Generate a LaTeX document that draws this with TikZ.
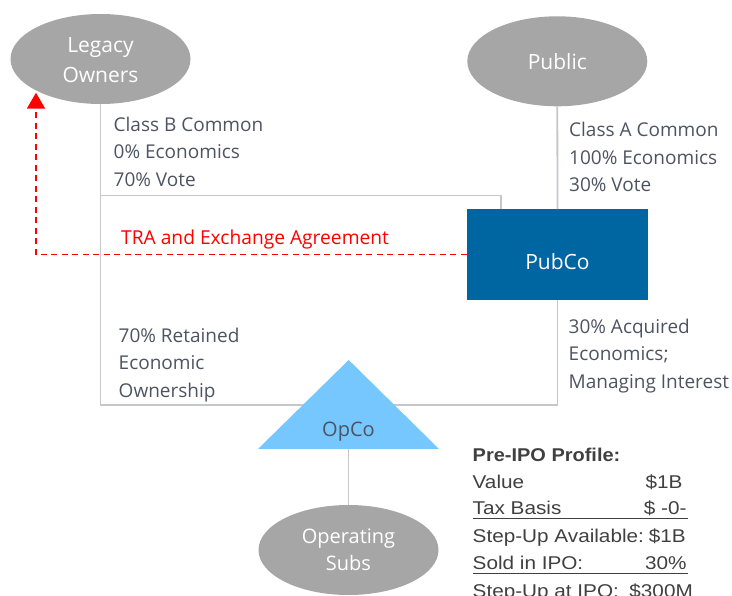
\documentclass[tikz,border=0pt]{standalone}
\usepackage{fontspec}
\setmainfont{Open Sans}
\newfontfamily\tabfont[FakeStretch=1.12]{Liberation Sans}
\newfontfamily\tabheadfont[FakeStretch=1.08]{Liberation Sans}
\usetikzlibrary{arrows.meta,shapes.geometric}

\definecolor{ownergrey}{HTML}{A6A6A6}
\definecolor{pubblue}{HTML}{0066A2}
\definecolor{opcoblue}{HTML}{75C7FD}
\definecolor{linkgrey}{HTML}{C5C7CD}
\definecolor{labelgrey}{HTML}{4D5461}
\definecolor{tablegrey}{HTML}{404040}
\definecolor{trared}{HTML}{FF0000}

\begin{document}
\begin{tikzpicture}[x=1pt,y=-1pt,
  owner/.style={ellipse, fill=ownergrey, minimum width=180pt, minimum height=90pt,
    inner sep=0pt, text=white, align=center},
  whitetext/.style={text=white, inner sep=0pt, align=center},
  conn/.style={draw=linkgrey, line width=1.8pt},
  infotext/.style={anchor=north west, inner sep=0pt, text=labelgrey, align=left,
    font=\fontsize{19pt}{27.5pt}\selectfont},
  tra/.style={draw=trared, line width=1.8pt, dash pattern=on 6pt off 4.5pt},
  tabtext/.style={inner sep=0pt, text=tablegrey, font=\tabfont\fontsize{18.5pt}{22pt}\selectfont},
  tabrule/.style={draw=tablegrey, line width=1.3pt}
]
\useasboundingbox (0,0) rectangle (732,596);

% owners and the operating subsidiaries
\node[owner] (legacy) at (100.5,59) {};
\node[whitetext, font=\fontsize{21pt}{30pt}\selectfont] (legacytext) at (100.5,60.6) {Legacy\\Owners};
\node[owner, font=\fontsize{21pt}{25pt}\selectfont] (public) at (557.3,61.3) {Public};
\node[owner, font=\fontsize{20pt}{26.7pt}\selectfont] (opsubs) at (348.5,550) {Operating\\Subs};

% the public company
\node[fill=pubblue, minimum width=181pt, minimum height=90.5pt, inner sep=0pt] (pubco) at (557.5,254.5) {};
\node[whitetext, font=\fontsize{21pt}{25pt}\selectfont] (pubcotext) at (557.5,261.3) {PubCo};

% ownership links
\coordinate (cornerbl) at (100.5,405);
\coordinate (cornerbr) at (557.5,405);
\coordinate (votebranch) at (100.5,195.5);
\coordinate (votecorner) at (501,195.5);
\coordinate (opcobase) at (348.5,449);
\draw[conn] (legacy.south) -- (cornerbl) -- (cornerbr) -- (pubco.south);
\draw[conn] (public.south) -- (pubco.north);
\draw[conn] (votebranch) -- (votecorner) -- (votecorner |- pubco.north);
\draw[conn] (opcobase) -- (opsubs.north);

% the operating company
\fill[opcoblue] (258,449) -- (348.7,360) -- (439,449) -- cycle;
\node[text=labelgrey, inner sep=0pt, font=\fontsize{20pt}{24pt}\selectfont] (opco) at (348.5,431.8) {OpCo};

% tax receivable agreement
\coordinate (tratip) at (36,92.7);
\draw[tra, -{Triangle[width=18pt,length=16pt]}] (pubco.west) -| (tratip);
\node[anchor=base west, inner sep=0pt, text=trared, font=\fontsize{19.2pt}{24pt}\selectfont] (tralabel) at (121,245) {TRA and Exchange Agreement};

% share class and economics notes
\node[infotext] (classb) at (113.5,116.6) {Class B Common\\0\% Economics\\70\% Vote};
\node[infotext] (classa) at (569,122) {Class A Common\\100\% Economics\\30\% Vote};
\node[infotext] (retained) at (118.5,327.6) {70\% Retained\\Economic\\Ownership};
\node[infotext] (acquired) at (568.5,318.6) {30\% Acquired\\Economics;\\Managing Interest};

% pre-IPO profile
\node[tabtext, anchor=base west, font=\tabheadfont\bfseries\fontsize{18.5pt}{22pt}\selectfont] (profilehead) at (472.5,461) {Pre-IPO Profile:};
\node[tabtext, anchor=base west] (valuelabel) at (472.5,489) {Value};
\node[tabtext, anchor=base east] (valuenum) at (682.7,489) {\$1B};
\node[tabtext, anchor=base west] (basislabel) at (472.5,514.5) {Tax Basis};
\node[tabtext, anchor=base east] (basisnum) at (686.7,514.5) {\$ -0-};
\node[tabtext, anchor=base west] (availlabel) at (472.5,542) {Step-Up Available:};
\node[tabtext, anchor=base east] (availnum) at (686,542) {\$1B};
\node[tabtext, anchor=base west] (soldlabel) at (472.5,569.5) {Sold in IPO:};
\node[tabtext, anchor=base east] (soldnum) at (686.7,569.5) {30\%};
\node[tabtext, anchor=base west] (stepuplabel) at (472.5,597) {Step-Up at IPO:};
\node[tabtext, anchor=base east] (stepupnum) at (693,597) {\$300M};
\draw[tabrule] ([yshift=-4.3pt]basislabel.base west) -- ([yshift=-4.3pt,xshift=1pt]basisnum.base east);
\draw[tabrule] ([yshift=-4.2pt]soldlabel.base west) -- ([yshift=-4.2pt,xshift=1pt]soldnum.base east);
\end{tikzpicture}
\end{document}
